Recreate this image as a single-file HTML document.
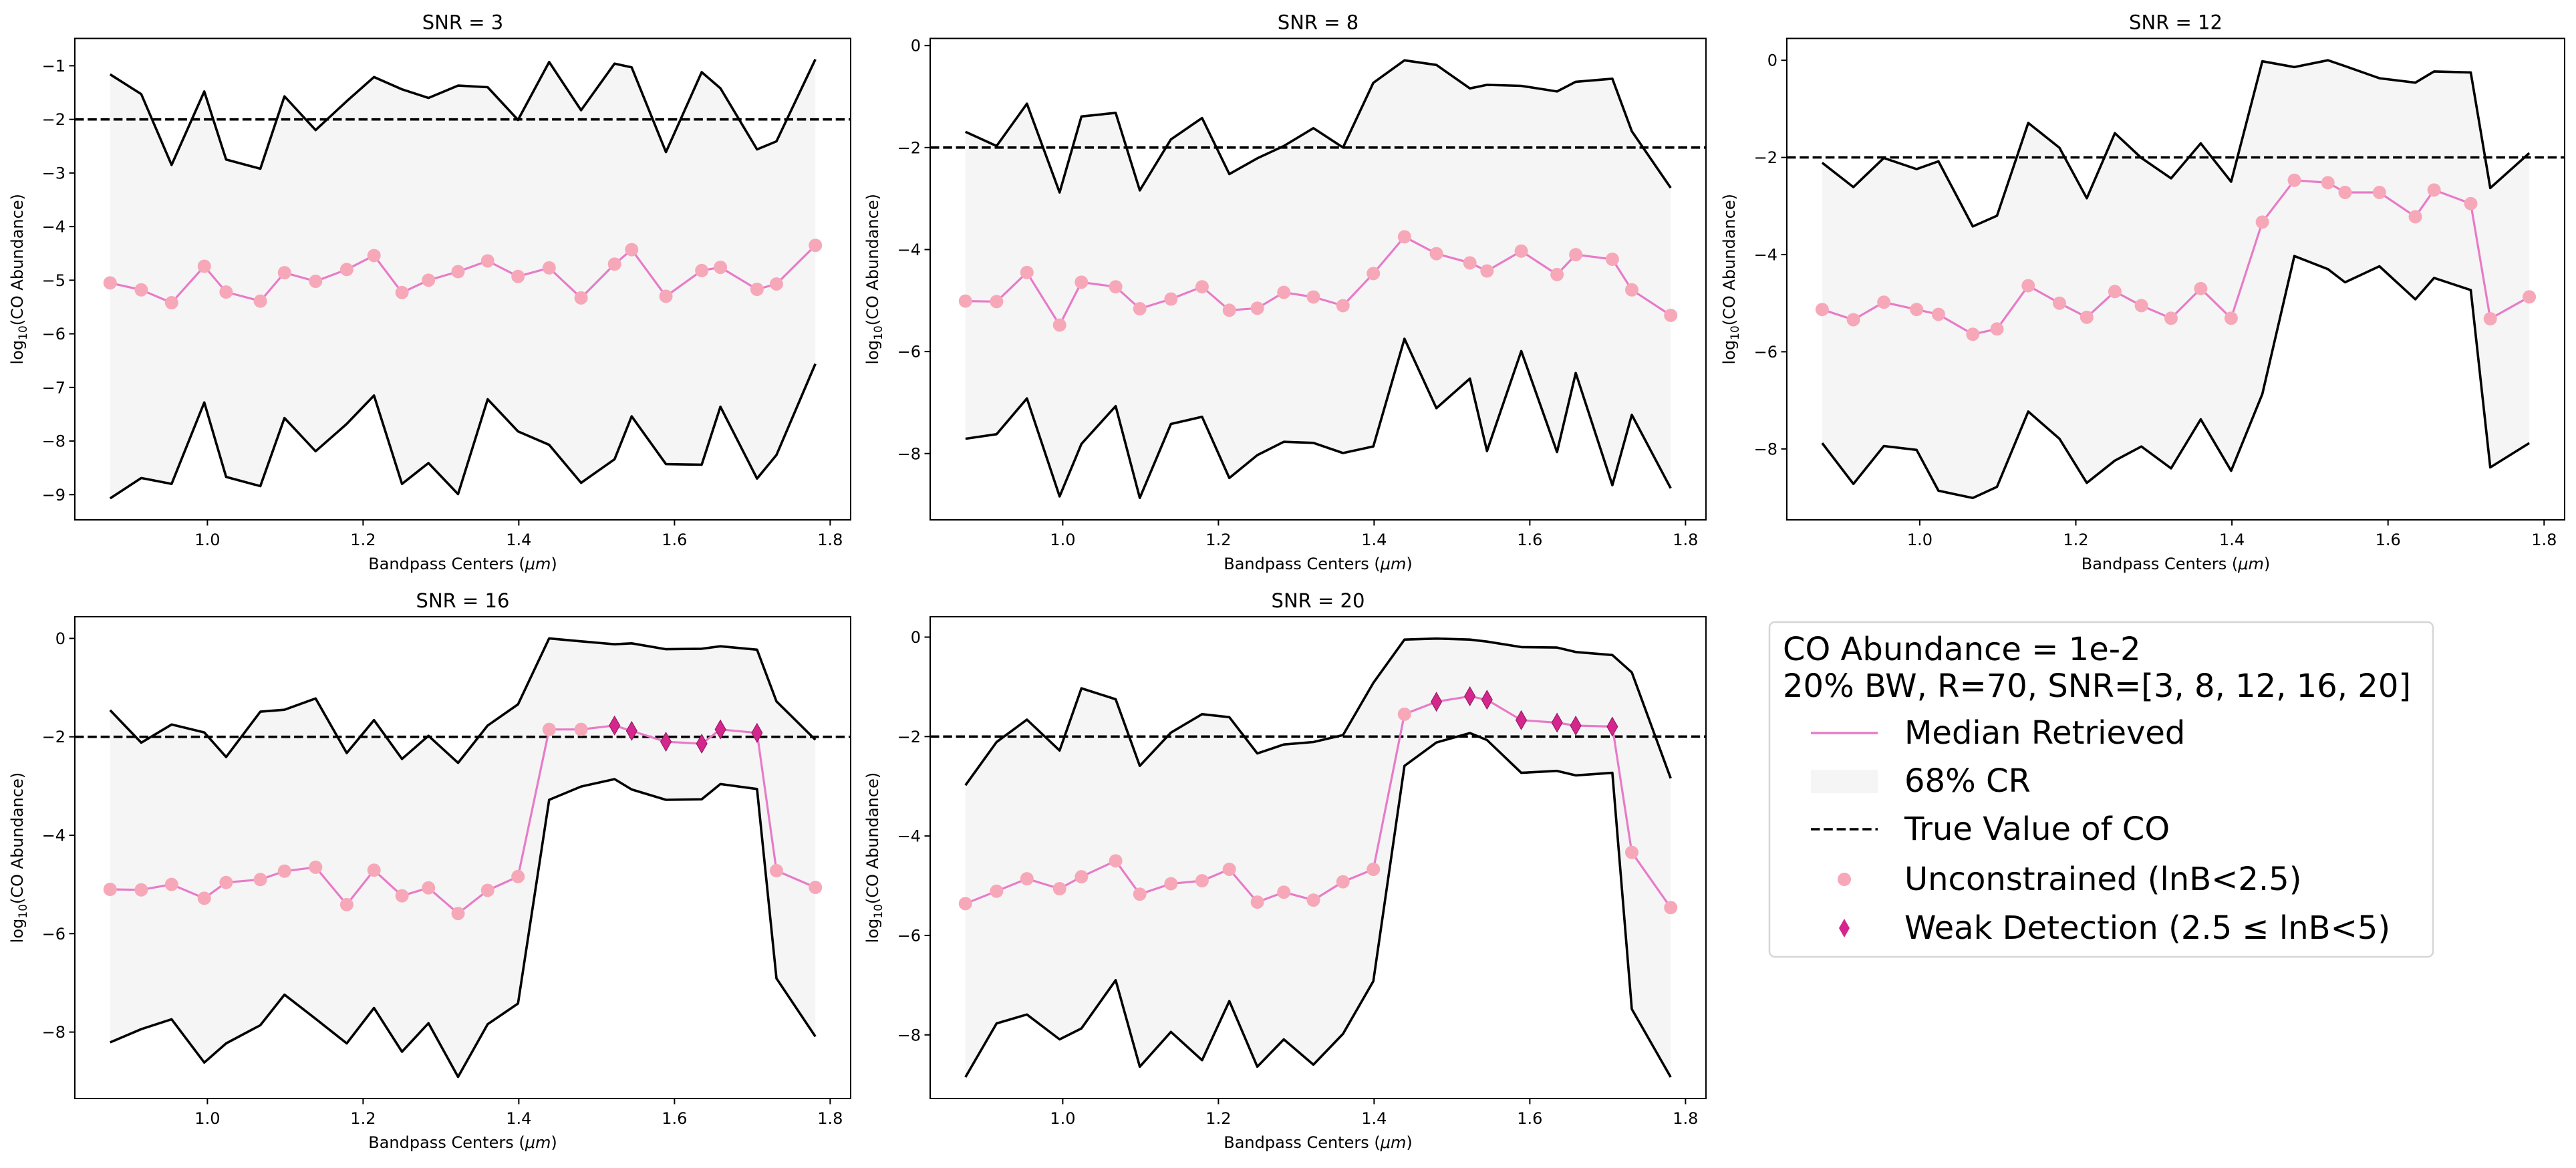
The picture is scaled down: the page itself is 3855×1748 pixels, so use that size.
<!DOCTYPE html>
<html><head><meta charset="utf-8">
<style>
html,body{margin:0;padding:0;background:#fff;}
svg{display:block;font-family:"DejaVu Sans","Liberation Sans",sans-serif;}
</style></head>
<body>
<svg id="fig" width="3855" height="1748" viewBox="0 0 3855 1748" xmlns="http://www.w3.org/2000/svg">
<rect width="3855" height="1748" fill="#fff"/>
<g>
  <rect x="2648" y="931" width="993" height="501" rx="8" fill="#fff" stroke="#d6d6d6" stroke-width="2.5"/>
  <text x="2668" y="988" font-size="48" fill="#000">CO Abundance = 1e-2</text>
  <text x="2668" y="1043" font-size="48" fill="#000">20% BW, R=70, SNR=[3, 8, 12, 16, 20]</text>
  <line x1="2710" y1="1097" x2="2810" y2="1097" stroke="#e87bc8" stroke-width="3.5"/>
  <text x="2850" y="1113" font-size="48">Median Retrieved</text>
  <rect x="2710" y="1152" width="100" height="35" fill="#f5f5f5"/>
  <text x="2850" y="1185" font-size="48">68% CR</text>
  <line x1="2710" y1="1241" x2="2810" y2="1241" stroke="#000" stroke-width="3.6" stroke-dasharray="13.5,5.8"/>
  <text x="2850" y="1257" font-size="48">True Value of CO</text>
  <circle cx="2760" cy="1316" r="10" fill="#f7a8b8"/>
  <text x="2850" y="1332" font-size="48">Unconstrained (lnB&lt;2.5)</text>
  <path d="M2760 1375 L2768 1389 L2760 1403 L2752 1389 Z" fill="#d4268c"/>
  <text x="2850" y="1405" font-size="48">Weak Detection (2.5 ≤ lnB&lt;5)</text>
</g>
</svg>
<script>
const xs = [0.875,0.915,0.954,0.996,1.024,1.068,1.099,1.139,1.179,1.214,1.250,1.284,1.322,1.360,1.399,1.439,1.480,1.523,1.545,1.589,1.635,1.659,1.706,1.731,1.781];
const snrTitles = ["SNR = 3","SNR = 8","SNR = 12","SNR = 16","SNR = 20"];
const xTicks = [1.0,1.2,1.4,1.6,1.8];
const xTickLabels = ["1.0","1.2","1.4","1.6","1.8"];
const trueValue = -2;
const up1 = [-1.16,-1.53,-2.85,-1.48,-2.75,-2.92,-1.57,-2.2,-1.66,-1.21,-1.44,-1.6,-1.37,-1.4,-2.01,-0.93,-1.83,-0.96,-1.03,-2.61,-1.12,-1.42,-2.56,-2.41,-0.88];
const med1 = [-5.05,-5.18,-5.42,-4.74,-5.22,-5.39,-4.86,-5.02,-4.8,-4.54,-5.23,-5.0,-4.84,-4.64,-4.93,-4.77,-5.33,-4.7,-4.43,-5.3,-4.82,-4.76,-5.17,-5.07,-4.35];
const lo1 = [-9.07,-8.69,-8.8,-7.28,-8.67,-8.84,-7.57,-8.19,-7.68,-7.15,-8.8,-8.41,-8.99,-7.22,-7.82,-8.07,-8.78,-8.34,-7.54,-8.43,-8.44,-7.36,-8.7,-8.26,-6.56];
const up2 = [-1.69,-1.97,-1.14,-2.88,-1.39,-1.32,-2.84,-1.84,-1.42,-2.52,-2.21,-1.97,-1.62,-2.0,-0.73,-0.29,-0.38,-0.84,-0.77,-0.79,-0.9,-0.71,-0.65,-1.68,-2.79];
const med2 = [-5.01,-5.02,-4.45,-5.48,-4.64,-4.73,-5.16,-4.97,-4.73,-5.19,-5.15,-4.84,-4.93,-5.1,-4.47,-3.75,-4.08,-4.26,-4.42,-4.03,-4.49,-4.1,-4.19,-4.79,-5.29];
const lo2 = [-7.71,-7.62,-6.92,-8.84,-7.81,-7.07,-8.87,-7.42,-7.28,-8.48,-8.03,-7.77,-7.79,-7.99,-7.86,-5.75,-7.11,-6.53,-7.95,-5.99,-7.97,-6.42,-8.62,-7.24,-8.68];
const up3 = [-2.11,-2.61,-2.01,-2.24,-2.08,-3.42,-3.2,-1.29,-1.8,-2.84,-1.5,-2.01,-2.43,-1.71,-2.5,-0.02,-0.14,0,-0.12,-0.37,-0.46,-0.23,-0.25,-2.63,-1.91];
const med3 = [-5.13,-5.34,-4.98,-5.13,-5.23,-5.64,-5.53,-4.64,-5.0,-5.29,-4.76,-5.05,-5.31,-4.7,-5.31,-3.33,-2.47,-2.52,-2.72,-2.72,-3.22,-2.67,-2.95,-5.32,-4.87];
const lo3 = [-7.88,-8.72,-7.94,-8.02,-8.86,-9.01,-8.78,-7.23,-7.79,-8.7,-8.24,-7.95,-8.4,-7.39,-8.45,-6.87,-4.03,-4.3,-4.57,-4.24,-4.92,-4.48,-4.73,-8.38,-7.88];
const up4 = [-1.46,-2.12,-1.75,-1.91,-2.41,-1.49,-1.45,-1.22,-2.33,-1.66,-2.45,-1.98,-2.53,-1.77,-1.34,0,-0.06,-0.12,-0.1,-0.22,-0.21,-0.16,-0.23,-1.28,-2.06];
const med4 = [-5.1,-5.11,-5.0,-5.28,-4.96,-4.9,-4.73,-4.65,-5.41,-4.71,-5.23,-5.07,-5.59,-5.12,-4.84,-1.85,-1.85,-1.77,-1.88,-2.1,-2.14,-1.85,-1.92,-4.72,-5.06];
const lo4 = [-8.21,-7.94,-7.74,-8.62,-8.23,-7.86,-7.24,-7.73,-8.23,-7.51,-8.4,-7.82,-8.91,-7.84,-7.42,-3.28,-3.01,-2.86,-3.07,-3.28,-3.27,-2.96,-3.06,-6.91,-8.09];
const weak4 = [0,0,0,0,0,0,0,0,0,0,0,0,0,0,0,0,0,1,1,1,1,1,1,0,0];
const up5 = [-2.98,-2.11,-1.66,-2.28,-1.03,-1.25,-2.59,-1.92,-1.55,-1.61,-2.34,-2.16,-2.11,-1.97,-0.92,-0.05,-0.03,-0.05,-0.09,-0.2,-0.21,-0.3,-0.36,-0.71,-2.84];
const med5 = [-5.36,-5.11,-4.86,-5.06,-4.82,-4.5,-5.17,-4.96,-4.9,-4.67,-5.33,-5.13,-5.29,-4.92,-4.67,-1.55,-1.3,-1.19,-1.26,-1.67,-1.72,-1.78,-1.8,-4.33,-5.44];
const lo5 = [-8.85,-7.77,-7.59,-8.09,-7.87,-6.9,-8.64,-7.94,-8.51,-7.32,-8.64,-8.09,-8.6,-7.98,-6.92,-2.59,-2.12,-1.93,-2.07,-2.73,-2.69,-2.78,-2.73,-7.48,-8.85];
const weak5 = [0,0,0,0,0,0,0,0,0,0,0,0,0,0,0,0,1,1,1,1,1,1,1,0,0];
const noWeak = [0,0,0,0,0,0,0,0,0,0,0,0,0,0,0,0,0,0,0,0,0,0,0,0,0];
const yTicks1 = [-1,-2,-3,-4,-5,-6,-7,-8,-9];
const yTicksEven = [0,-2,-4,-6,-8];

const NS = "http://www.w3.org/2000/svg";
const svg = document.getElementById('fig');
function mk(tag, attrs, parent){
  const e = document.createElementNS(NS, tag);
  for (const k in attrs) e.setAttribute(k, attrs[k]);
  (parent||svg).appendChild(e);
  return e;
}
const panels = [
  {L:112, T:57.5, W:1161, H:720.5, ymin:-9.47, ymax:-0.49, up:up1, med:med1, lo:lo1, weak:noWeak, yt:yTicks1, t:0},
  {L:1392, T:57.5, W:1161, H:720.5, ymin:-9.3, ymax:0.14, up:up2, med:med2, lo:lo2, weak:noWeak, yt:yTicksEven, t:1},
  {L:2674, T:57.5, W:1164, H:720.5, ymin:-9.46, ymax:0.45, up:up3, med:med3, lo:lo3, weak:noWeak, yt:yTicksEven, t:2},
  {L:112, T:923, W:1161, H:721, ymin:-9.35, ymax:0.44, up:up4, med:med4, lo:lo4, weak:weak4, yt:yTicksEven, t:3},
  {L:1392, T:923, W:1161, H:721, ymin:-9.28, ymax:0.41, up:up5, med:med5, lo:lo5, weak:weak5, yt:yTicksEven, t:4}
];
const XMIN = 0.8297, XMAX = 1.8263;
const fmt = v => (v<0 ? '\u2212'+Math.abs(v) : ''+v);
panels.forEach((p, pi) => {
  const g = mk('g', {});
  
  
  const sx = v => p.L + (v - XMIN) / (XMAX - XMIN) * p.W;
  const sy = v => p.T + (p.ymax - v) / (p.ymax - p.ymin) * p.H;
  const clipId = 'clip' + pi;
  const cp = mk('clipPath', {id: clipId}, g);
  mk('rect', {x:p.L, y:p.T, width:p.W, height:p.H}, cp);
  const inner = mk('g', {'clip-path':'url(#'+clipId+')'}, g);
  // fill
  let d = xs.map((x,i)=>(i?'L':'M')+sx(x).toFixed(1)+' '+sy(p.up[i]).toFixed(1)).join(' ');
  for (let i=xs.length-1;i>=0;i--) d += ' L'+sx(xs[i]).toFixed(1)+' '+sy(p.lo[i]).toFixed(1);
  const band = mk('path', {d:d+' Z', fill:'#f5f5f5', stroke:'none'}, inner);
  
  
  const pl = arr => xs.map((x,i)=>sx(x).toFixed(1)+','+sy(arr[i]).toFixed(1)).join(' ');
  const upL = mk('polyline', {points:pl(p.up), fill:'none', stroke:'#000', 'stroke-width':3.6, 'stroke-linejoin':'round'}, inner);
  
  
  const loL = mk('polyline', {points:pl(p.lo), fill:'none', stroke:'#000', 'stroke-width':3.6, 'stroke-linejoin':'round'}, inner);
  
  
  const tv = mk('line', {x1:p.L, x2:p.L+p.W, y1:sy(trueValue), y2:sy(trueValue), stroke:'#000', 'stroke-width':3.6, 'stroke-dasharray':'13.5,5.8'}, inner);
  
  
  const mL = mk('polyline', {points:pl(p.med), fill:'none', stroke:'#e87bc8', 'stroke-width':3.2, 'stroke-linejoin':'round'}, inner);
  
  
  xs.forEach((x,i)=>{
    const cx = sx(x), cy = sy(p.med[i]);
    let m;
    if (p.weak[i]) {
      m = mk('path', {d:`M${cx} ${cy-14} L${cx+8} ${cy} L${cx} ${cy+14} L${cx-8} ${cy} Z`, fill:'#d4268c', stroke:'#8a1a5c', 'stroke-width':1}, inner);
      
    } else {
      m = mk('circle', {cx:cx, cy:cy, r:10, fill:'#f7a8b8'}, inner);
      
    }
    
  });
  // frame
  mk('rect', {x:p.L, y:p.T, width:p.W, height:p.H, fill:'none', stroke:'#000', 'stroke-width':2}, g);
  // x ticks
  xTicks.forEach((v,i)=>{
    const x = sx(v);
    mk('line', {x1:x, x2:x, y1:p.T+p.H, y2:p.T+p.H+8.5, stroke:'#000', 'stroke-width':2}, g);
    const t = mk('text', {x:x, y:p.T+p.H+38, 'font-size':24, 'text-anchor':'middle'}, g);
    t.textContent = xTickLabels[i];
    
    
  });
  p.yt.forEach(v=>{
    const y = sy(v);
    mk('line', {x1:p.L-8.5, x2:p.L, y1:y, y2:y, stroke:'#000', 'stroke-width':2}, g);
    const t = mk('text', {x:p.L-14, y:y+8.5, 'font-size':24, 'text-anchor':'end'}, g);
    t.textContent = fmt(v);
    
    
  });
  const title = mk('text', {x:p.L+p.W/2, y:p.T-14, 'font-size':29, 'text-anchor':'middle'}, g);
  title.textContent = snrTitles[p.t];
  
  
  const xl = mk('text', {x:p.L+p.W/2, y:p.T+p.H+74, 'font-size':24, 'text-anchor':'middle'}, g);
  xl.innerHTML = 'Bandpass Centers (<tspan font-style="italic">μm</tspan>)';
  
  
  const yx = p.L - 78, yc = p.T + p.H/2;
  const yl = mk('text', {x:yx, y:yc, 'font-size':24, 'text-anchor':'middle', transform:`rotate(-90 ${yx} ${yc})`}, g);
  yl.innerHTML = 'log<tspan font-size="17" dy="6">10</tspan><tspan dy="-6">(CO Abundance)</tspan>';
  
  
});
</script>
</body></html>
